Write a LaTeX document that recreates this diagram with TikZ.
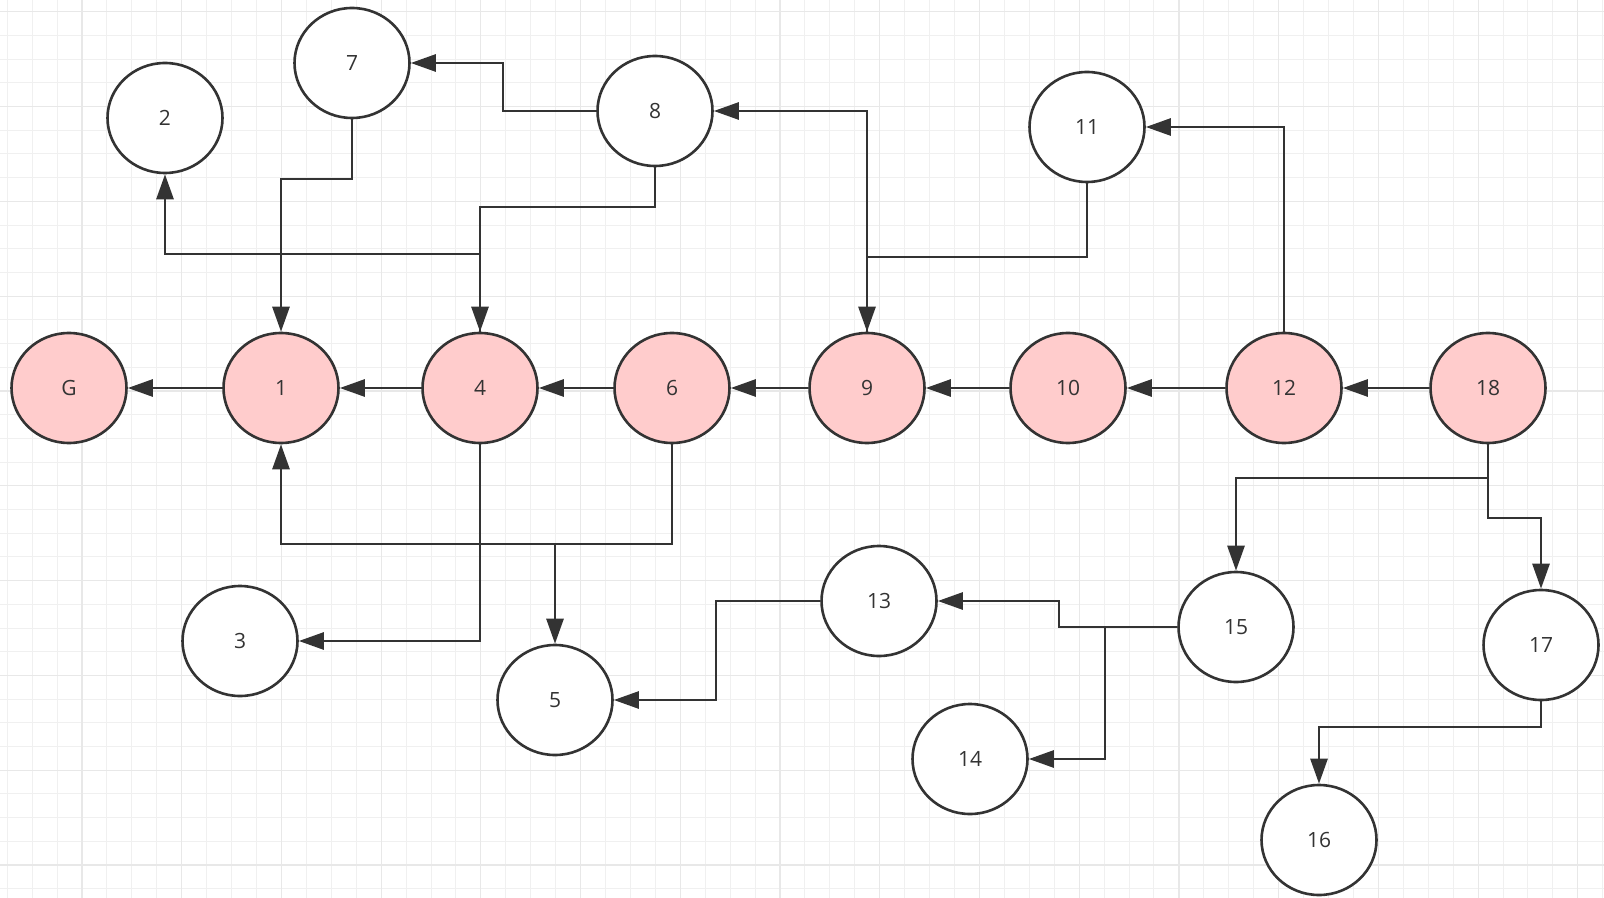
\documentclass[tikz,border=0pt]{standalone}
\usepackage{fontspec}
\setmainfont{Open Sans}
\usepackage{tikz}
\usetikzlibrary{shapes.geometric, arrows.meta}
\definecolor{linegray}{HTML}{333333}
\definecolor{pathpink}{HTML}{FFCCCC}
\definecolor{gridminor}{HTML}{F0F0F0}
\definecolor{gridmajor}{HTML}{E8E8E8}
\tikzstyle{vertex} = [ellipse, minimum width=57.5pt, minimum height=55pt, inner sep=0pt,
  draw=linegray, fill=white, line width=1.3pt, text=linegray, font=\fontsize{10.5}{12}\selectfont]
\tikzstyle{pathvertex} = [vertex, fill=pathpink]
\tikzstyle{arrow} = [draw=linegray, line width=1.35pt, -{Triangle[length=12.5pt, width=8.5pt]}]

\begin{document}
\begin{tikzpicture}[x=0.5pt, y=-0.5pt]
  \useasboundingbox (0,0) rectangle (1604,898);
  \fill[white] (0,0) rectangle (1604,898);
  % background grid
  \foreach \i in {0,...,64} \draw[gridminor, line width=0.5pt] ({7.2+24.93*\i},0) -- ++(0,898);
  \foreach \j in {0,...,37} \draw[gridminor, line width=0.5pt] (0,{11.8+23.7*\j}) -- ++(1604,0);
  \foreach \i in {0,...,15} \draw[gridmajor, line width=0.6pt] ({82+99.72*\i},0) -- ++(0,898);
  \foreach \j in {0,...,9} \draw[gridmajor, line width=0.6pt] (0,{11.8+94.8*\j}) -- ++(1604,0);

  \node (nG)  [pathvertex] at (69,388)   {G};
  \node (n1)  [pathvertex] at (281,388)  {1};
  \node (n4)  [pathvertex] at (480,388)  {4};
  \node (n6)  [pathvertex] at (672,388)  {6};
  \node (n9)  [pathvertex] at (867,388)  {9};
  \node (n10) [pathvertex] at (1068,388) {10};
  \node (n12) [pathvertex] at (1284,388) {12};
  \node (n18) [pathvertex] at (1488,388) {18};

  \node (n2)  [vertex] at (165,118)  {2};
  \node (n7)  [vertex] at (352,63)   {7};
  \node (n8)  [vertex] at (655,111)  {8};
  \node (n11) [vertex] at (1087,127) {11};
  \node (n3)  [vertex] at (240,641)  {3};
  \node (n5)  [vertex] at (555,700)  {5};
  \node (n13) [vertex] at (879,601)  {13};
  \node (n14) [vertex] at (970,759)  {14};
  \node (n15) [vertex] at (1236,627) {15};
  \node (n17) [vertex] at (1541,645) {17};
  \node (n16) [vertex] at (1319,840) {16};

  \draw[arrow] (n1.west) -- (nG.east);
  \draw[arrow] (n4.west) -- (n1.east);
  \draw[arrow] (n6.west) -- (n4.east);
  \draw[arrow] (n9.west) -- (n6.east);
  \draw[arrow] (n10.west) -- (n9.east);
  \draw[arrow] (n12.west) -- (n10.east);
  \draw[arrow] (n18.west) -- (n12.east);

  \draw[arrow] (n7.south) -- (n7.south |- 0,179) -| (n1.north);
  \draw[arrow] (n8.west) -- (503,111) |- (n7.east);
  \draw[arrow] (n8.south) -- (n8.south |- 0,207) -| (n4.north);
  \draw[arrow] (n4.north) -- (n4.north |- 0,254) -| (n2.south);
  \draw[arrow] (n9.north) |- (n8.east);
  \draw[arrow] (n11.south) -- (n11.south |- 0,257) -| (n9.north);
  \draw[arrow] (n12.north) |- (n11.east);

  \draw[arrow] (n6.south) -- (n6.south |- 0,544) -| (n1.south);
  \draw[arrow] (n6.south) -- (n6.south |- 0,544) -| (n5.north);
  \draw[arrow] (n4.south) |- (n3.east);
  \draw[arrow] (n13.west) -- (n13.west -| 716,0) |- (n5.east);
  \draw[arrow] (n15.west) -- (n15.west -| 1059,0) |- (n13.east);
  \draw[arrow] (n15.west) -- (n15.west -| 1105,0) |- (n14.east);
  \draw[arrow] (n18.south) -- (n18.south |- 0,478) -| (n15.north);
  \draw[arrow] (n18.south) -- (n18.south |- 0,518) -| (n17.north);
  \draw[arrow] (n17.south) -- (n17.south |- 0,727) -| (n16.north);
\end{tikzpicture}
\end{document}
